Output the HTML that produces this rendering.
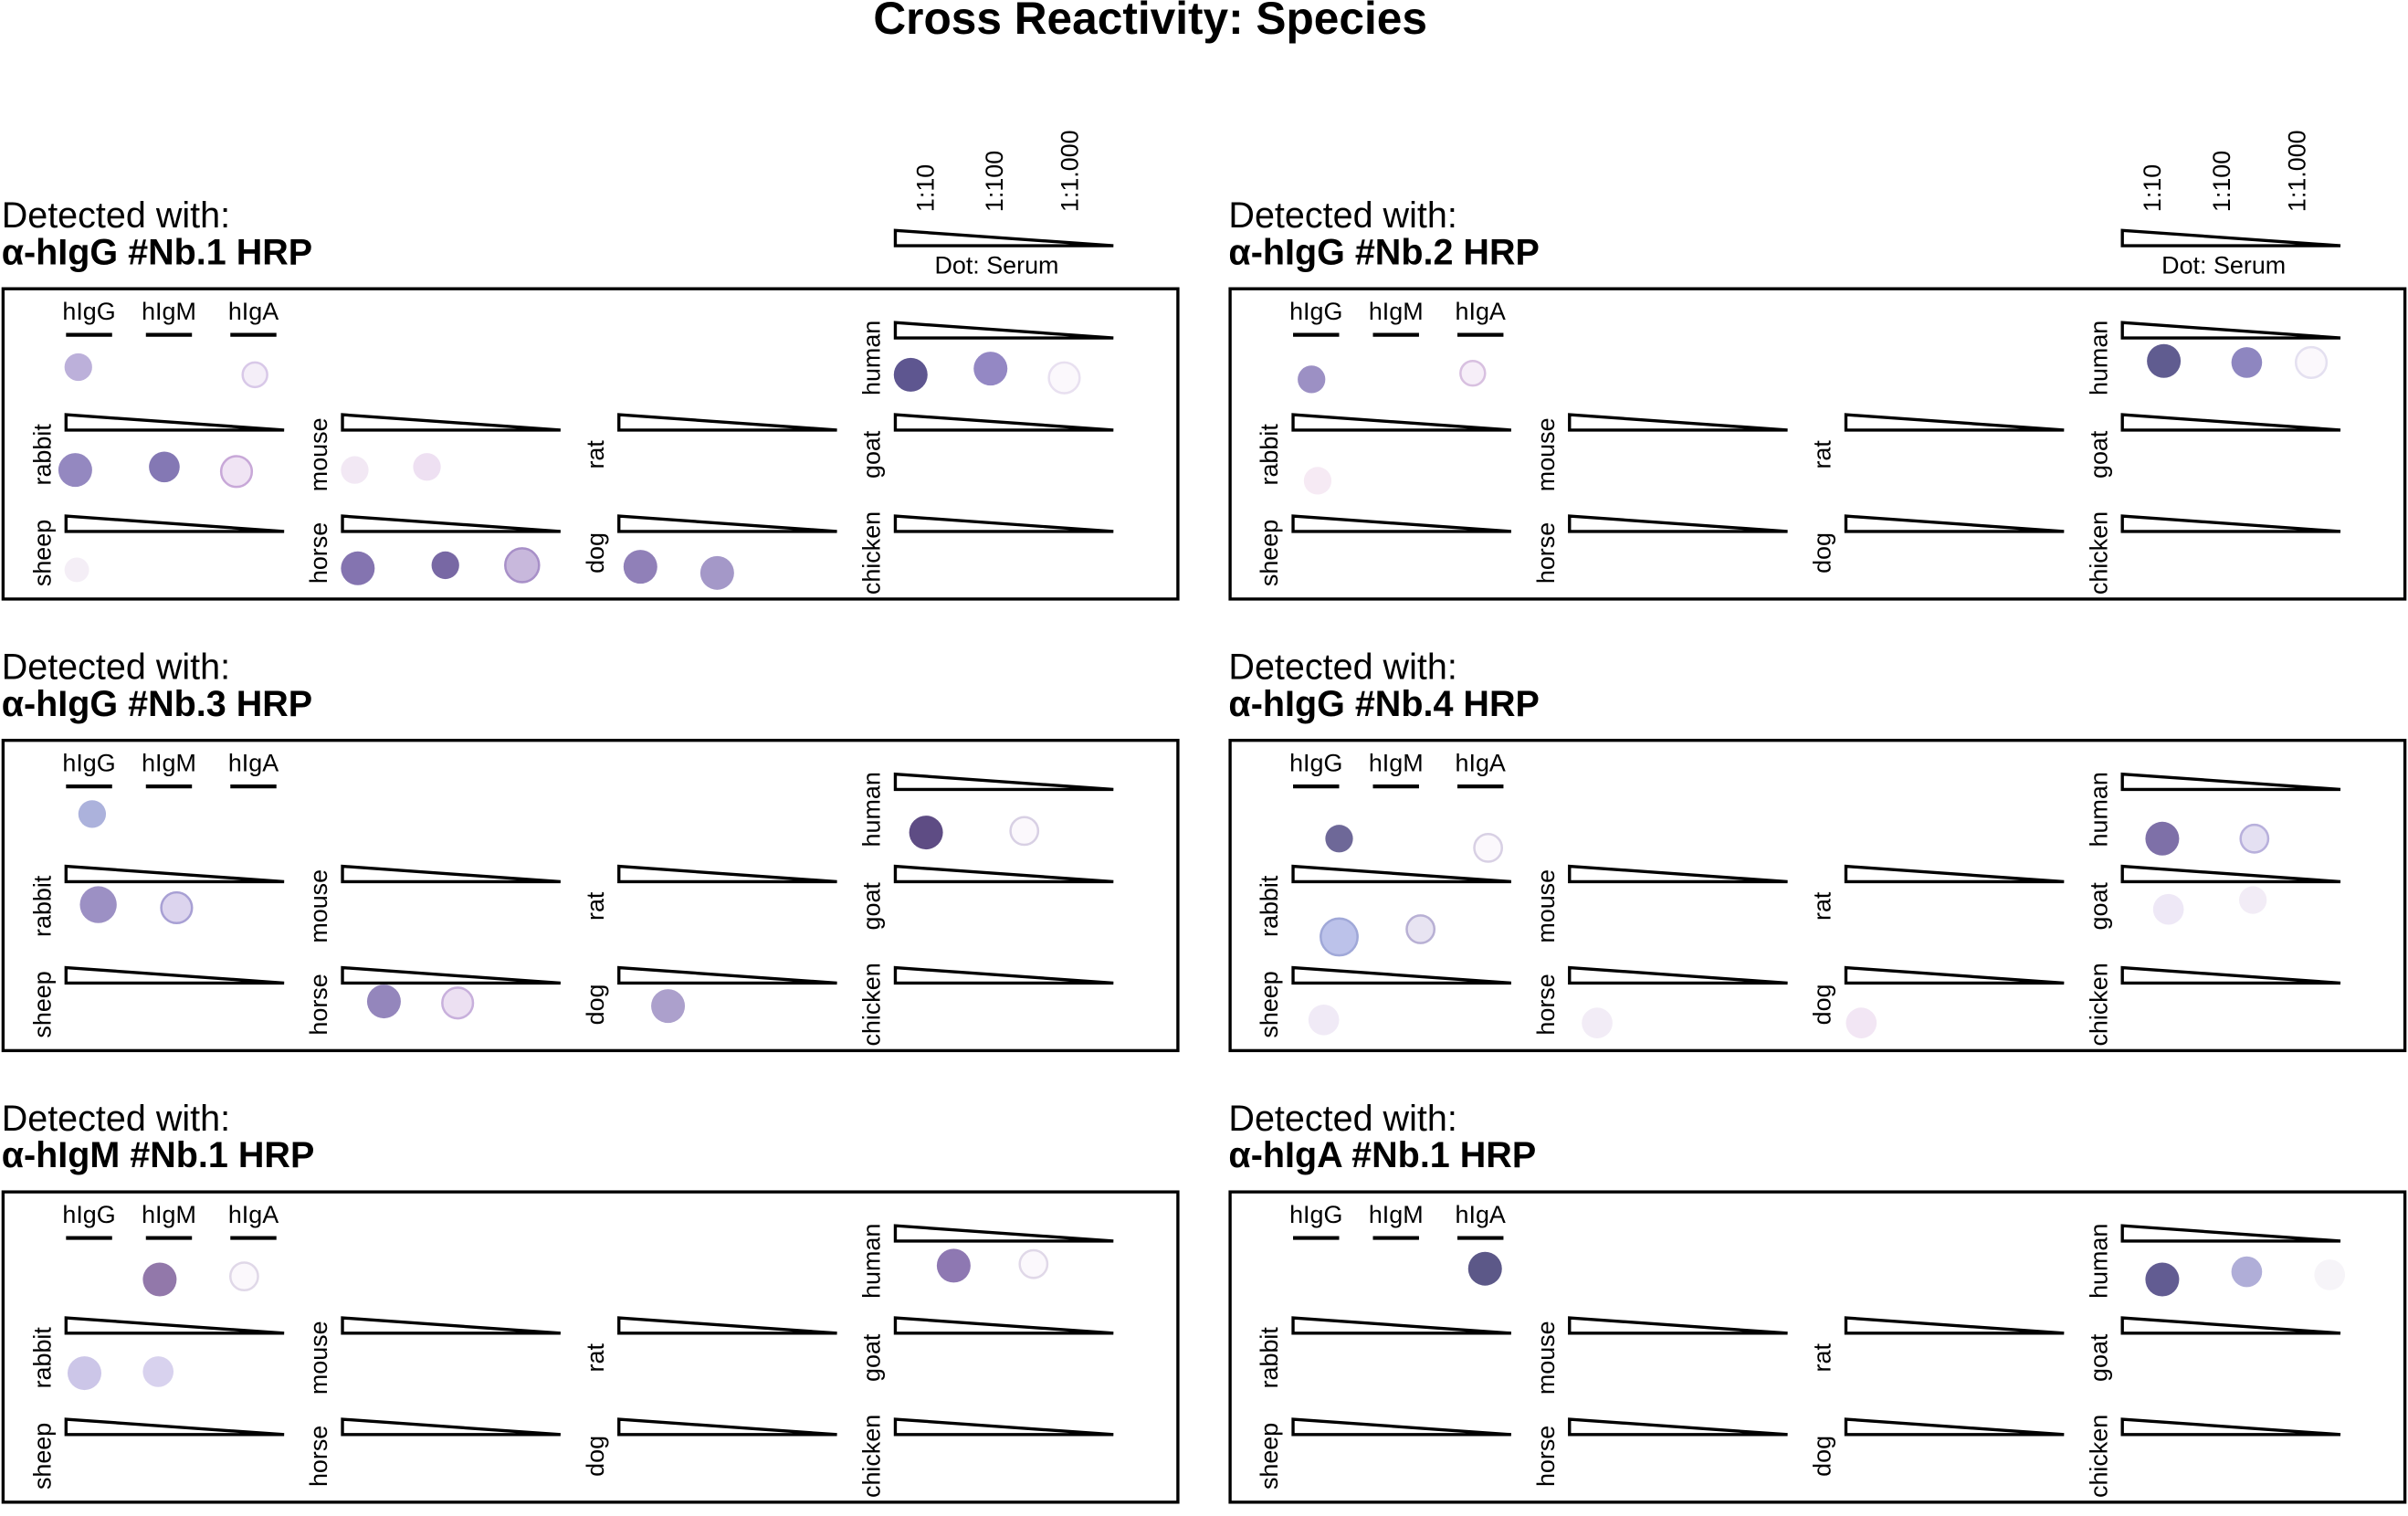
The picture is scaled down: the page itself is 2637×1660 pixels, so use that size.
<!DOCTYPE html>
<html><head><meta charset="utf-8"><style>
html,body{margin:0;padding:0;background:#fff}
svg{display:block}
text{font-family:"Liberation Sans",Arial,sans-serif;fill:#000}
</style></head><body>
<svg id="s" width="2637" height="1660" viewBox="0 0 1568 987" preserveAspectRatio="none" xmlns="http://www.w3.org/2000/svg">
<text x="749" y="22" font-size="29.5" font-weight="bold" text-anchor="middle">Cross Reactivity: Species</text>
</svg>
<script>
const s=document.getElementById('s');let h='';
const panels=[
 {o:[2,188],t:'α-hIgG #Nb.1 HRP',dil:1,d:[
  [49,51,9,'#bcb0da'],[164,56,8,'#f4eef8','#d8c8e8'],
  [591,56,11,'#5e5690'],[643,52,11,'#9488c4'],[691,58,10,'#fbf8fc','#e8e0f0'],
  [47,118,11,'#9488c0'],[105,116,10,'#8478b4'],[152,119,10,'#f0e4f4','#c8a8d8'],
  [229,118,9,'#f2e8f4'],[276,116,9,'#eee0f2'],[48,183,8,'#f4eef6'],
  [231,182,11,'#8474b0'],[288,180,9,'#7868a4'],[338,180,11,'#c8b8dc','#a890c8'],
  [415,181,11,'#9080b8'],[465,185,11,'#a498c8']]},
 {o:[801,188],t:'α-hIgG #Nb.2 HRP',dil:1,d:[
  [53,59,9,'#9c90c4'],[158,55,8,'#f6eef8','#d8c0e0'],
  [608,47,11,'#605c90'],[662,48,10,'#8e86c0'],[704,48,10,'#fbf8fc','#e4e0f0'],
  [57,125,9,'#f6eaf4']]},
 {o:[2,482],t:'α-hIgG #Nb.3 HRP',d:[
  [58,48,9,'#acb2dc'],[601,60,11,'#5e4c84'],[665,59,9,'#fbf8fc','#d8d0e4'],
  [62,107,12,'#9c90c4'],[113,109,10,'#dcd4ee','#a8a0d4'],
  [248,170,11,'#9486bc'],[296,171,10,'#ece0f2','#c8b0dc'],[433,173,11,'#aca0cc']]},
 {o:[801,482],t:'α-hIgG #Nb.4 HRP',d:[
  [71,64,9,'#6e6898'],[168,70,9,'#fbf8fc','#d8d0e4'],
  [607,64,11,'#7e70a8'],[667,64,9,'#e4e0f2','#b8b0dc'],
  [611,110,10,'#eee8f6'],[666,104,9,'#f2ecf6'],
  [71,128,12,'#bcc2ea','#a0a8d8'],[124,123,9,'#e8e4f2','#b8b0d4'],
  [61,182,10,'#f0eaf6'],[239,184,10,'#f2ecf6'],[411,184,10,'#f2e6f4']]},
 {o:[2,776],t:'α-hIgM #Nb.1 HRP',d:[
  [102,57,11,'#9278aa'],[157,55,9,'#fbf8fc','#e0d8e8'],
  [619,48,11,'#8e78b2'],[671,47,9,'#fbf8fc','#e0d8e8'],
  [53,118,11,'#ccc6e8'],[101,117,10,'#d8d2ee']]},
 {o:[801,776],t:'α-hIgA #Nb.1 HRP',d:[
  [166,50,11,'#5c5888'],[607,57,11,'#625c92'],[662,52,10,'#b0aed8'],[716,54,10,'#f6f4f8']]}
];
const sp=[['','','','human'],['rabbit','mouse','rat','goat'],['sheep','horse','dog','chicken']];
const cols=[41,221,401,581],rows=[22,82,148],lc=[45,108,172];
const tri=(x,y)=>`<polygon points="${x},${y} ${x},${y+10} ${x+142},${y+10}" fill="#fff" stroke="#000" stroke-width="2"/>`;
for(const p of panels){
 const [ox,oy]=p.o;
 h+=`<g transform="translate(${ox},${oy})">`;
 h+=`<text x="-1" y="-40" font-size="23.5">Detected with:</text>`;
 h+=`<text x="-1" y="-16" font-size="23.5" font-weight="bold">${p.t}</text>`;
 h+=`<rect x="0" y="0" width="765" height="202" fill="none" stroke="#000" stroke-width="2"/>`;
 if(p.dil){
  h+=tri(581,-38);
  h+=`<text x="647" y="-10" font-size="16" text-anchor="middle">Dot: Serum</text>`;
  [['1:10',606],['1:100',651],['1:1.000',700]].forEach(([t,x])=>h+=`<text transform="translate(${x},-50) rotate(-90)" font-size="16">${t}</text>`);
 }
 [['hIgG',56],['hIgM',108],['hIgA',163]].forEach(([t,x])=>{h+=`<text x="${x}" y="20" font-size="16" text-anchor="middle">${t}</text><line x1="${x-15}" x2="${x+15}" y1="30" y2="30" stroke="#000" stroke-width="2.5"/>`;});
 for(let r=0;r<3;r++)for(let c=0;c<4;c++){
  const n=sp[r][c];if(!n)continue;
  h+=tri(cols[c],rows[r]);
  h+=`<text transform="translate(${cols[c]-10},${lc[r]}) rotate(-90)" font-size="16" text-anchor="middle">${n}</text>`;
 }
 for(const d of p.d){h+=`<circle cx="${d[0]}" cy="${d[1]}" r="${d[2]}" fill="${d[3]}" ${d[4]?`stroke="${d[4]}" stroke-width="1.5"`:''}/>`;}
 h+=`</g>`;
}
s.insertAdjacentHTML('beforeend',h);
</script>
</body></html>
